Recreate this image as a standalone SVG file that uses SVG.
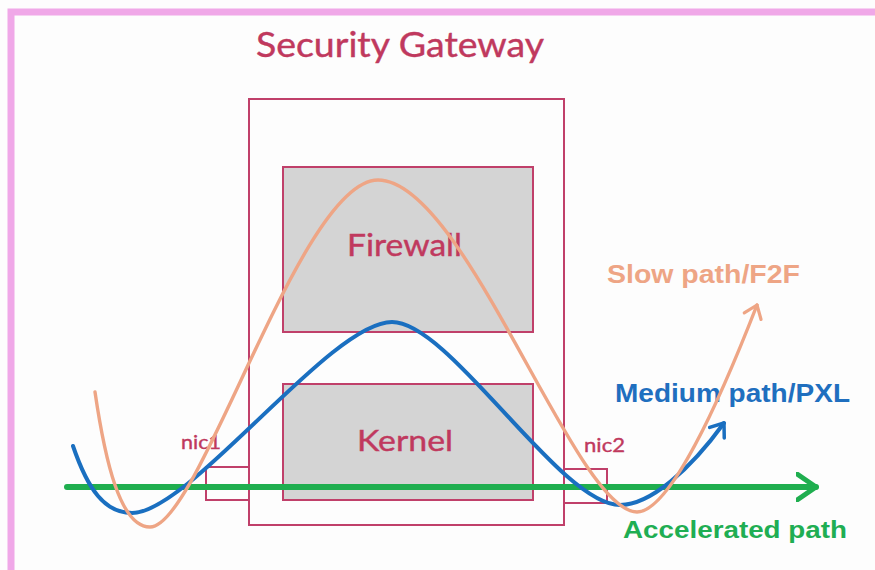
<svg xmlns="http://www.w3.org/2000/svg" width="875" height="570" viewBox="0 0 875 570">
<style>
.box{fill:none;stroke:#c0406a;stroke-width:2}
.gbox{fill:#d4d4d4;stroke:#c0406a;stroke-width:2}
.lbl{font-family:Lato,"Open Sans",sans-serif;fill:#c0395e;stroke:#c0395e;stroke-width:0.4}
.pl{font-family:"Liberation Sans",Arial,sans-serif;font-weight:bold}
</style>
<defs>
<marker id="ag" markerUnits="userSpaceOnUse" markerWidth="30" markerHeight="30" refX="20" refY="15" orient="auto" viewBox="0 0 30 30">
<path d="M1,2 L20,15 L1,28" fill="none" stroke="#1fae4f" stroke-width="5" stroke-linecap="round" stroke-linejoin="round"/>
</marker>
<marker id="ab" markerUnits="userSpaceOnUse" markerWidth="24" markerHeight="24" refX="14" refY="12" orient="auto" viewBox="0 0 24 24">
<path d="M2,3 L14,12 L2,21" fill="none" stroke="#1a6fc0" stroke-width="3.5" stroke-linecap="round" stroke-linejoin="round"/>
</marker>
<marker id="ao" markerUnits="userSpaceOnUse" markerWidth="24" markerHeight="24" refX="14" refY="12" orient="auto" viewBox="0 0 24 24">
<path d="M2,3 L14,12 L2,21" fill="none" stroke="#eea585" stroke-width="3.2" stroke-linecap="round" stroke-linejoin="round"/>
</marker>
</defs>
<rect x="0" y="0" width="875" height="570" fill="#fdfdfd"/>
<rect x="11" y="12" width="900" height="600" fill="none" stroke="#f0a8e8" stroke-width="7"/>
<text class="lbl" x="256" y="57" font-size="34" textLength="288" lengthAdjust="spacingAndGlyphs">Security Gateway</text>
<g id="gateway"><rect class="box" x="249" y="99" width="315" height="426"/></g>
<g id="firewall"><rect class="gbox" x="283" y="167" width="250" height="165"/>
<text class="lbl" x="347" y="256" font-size="30" textLength="115" lengthAdjust="spacingAndGlyphs">Firewall</text></g>
<g id="kernel"><rect class="gbox" x="283" y="384" width="250" height="116"/>
<text class="lbl" x="357" y="451" font-size="29" textLength="96" lengthAdjust="spacingAndGlyphs">Kernel</text></g>
<g id="nic1"><rect class="box" x="206" y="467" width="43" height="33"/>
<text class="lbl" x="181" y="449" font-size="20" textLength="40" lengthAdjust="spacingAndGlyphs">nic1</text></g>
<g id="nic2"><rect class="box" x="564" y="469" width="43" height="34"/>
<text class="lbl" x="584" y="452" font-size="20" textLength="41" lengthAdjust="spacingAndGlyphs">nic2</text></g>
<g id="labels">
<text class="pl" x="607" y="283" font-size="25" fill="#eea585" textLength="193" lengthAdjust="spacingAndGlyphs">Slow path/F2F</text>
<text class="pl" x="615" y="402" font-size="26" fill="#1f6fbf" textLength="235" lengthAdjust="spacingAndGlyphs">Medium path/PXL</text>
<text class="pl" x="623" y="538" font-size="24" fill="#1fae53" textLength="224" lengthAdjust="spacingAndGlyphs">Accelerated path</text>
</g>
<g id="connectors" fill="none" stroke-linecap="round">
<path d="M67,487 L816,487" stroke="#1fae4f" stroke-width="6" marker-end="url(#ag)"/>
<path d="M73,446 C88,490 105,513 132,513 C190,513 330,322 392,322 C450,322 560,505 620,505 C650,505 690,470 724,423" stroke="#1a6fc0" stroke-width="4" marker-end="url(#ab)"/>
<path d="M95,392 C105,460 120,527 150,527 C200,527 300,180 378,180 C465,180 575,512 637,512 C670,512 720,400 757,305" stroke="#eea585" stroke-width="3.4" marker-end="url(#ao)"/>
</g>
</svg>
